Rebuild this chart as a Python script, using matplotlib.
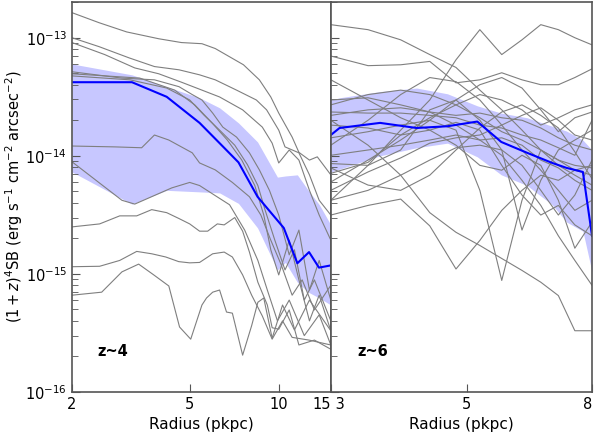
import matplotlib
matplotlib.use("Agg")
import matplotlib.pyplot as plt
from matplotlib.ticker import FixedLocator, FixedFormatter, NullLocator, NullFormatter, LogLocator

# ---- z~4 panel ----
z4_med_r = [2.0, 3.19, 4.18, 5.4, 6.31, 7.31, 8.48, 10.4, 11.56, 12.66, 13.68, 15.0]
z4_med_sb = [4.2e-14, 4.2e-14, 3.16e-14, 1.9e-14, 1.28e-14, 8.8e-15, 4.5e-15, 2.45e-15,
             1.23e-15, 1.53e-15, 1.13e-15, 1.18e-15]
z4_band_r = [2.0, 3.19, 4.18, 5.4, 6.31, 7.31, 8.48, 9.9, 10.53, 11.56, 12.59, 13.72, 15.0]
z4_band_hi = [6.0e-14, 4.85e-14, 3.85e-14, 3.1e-14, 2.55e-14, 1.9e-14, 1.31e-14, 6.6e-15,
              6.75e-15, 6.9e-15, 5.1e-15, 3.85e-15, 2.6e-15]
z4_band_lo = [7.3e-15, 3.9e-15, 5.1e-15, 4.95e-15, 4.85e-15, 3.95e-15, 2.45e-15, 1.08e-15,
              1.25e-15, 8.5e-16, 7.0e-16, 6.25e-16, 5.45e-16]

z4_gal_r = [
    [2.0, 2.47, 3.06, 3.93, 4.69, 5.5, 6.1, 7.6, 8.6, 9.4, 10.0, 11.1, 11.7, 12.7, 13.5, 15.0],
    [2.0, 2.47, 3.12, 3.8, 4.6, 5.4, 6.1, 7.2, 8.4, 9.1, 10.0, 10.5, 11.7, 12.7, 13.7, 15.0],
    [2.0, 2.58, 3.26, 3.93, 4.69, 5.5, 6.31, 7.55, 8.8, 9.5, 10.0, 10.85, 11.7, 12.7, 13.7, 15.0],
    [2.0, 2.95, 3.8, 4.6, 5.1, 5.5, 5.98, 6.47, 7.2, 7.96, 8.6, 9.3, 10.0, 10.85, 11.7, 12.7, 13.7, 15.0],
    [2.0, 3.14, 4.18, 5.0, 5.6, 6.31, 7.1, 7.84, 8.5, 9.0, 9.7, 10.5, 11.3, 12.2, 13.2, 15.0],
    [2.0, 3.39, 4.45, 5.2, 5.95, 6.7, 7.5, 8.3, 8.9, 9.4, 10.0, 10.85, 11.7, 12.7, 13.7, 15.0],
    [2.0, 2.79, 3.44, 3.8, 4.25, 5.1, 5.4, 6.1, 6.97, 7.96, 8.7, 9.4, 10.2, 11.1, 12.0, 13.2, 15.0],
    [2.0, 2.95, 3.26, 4.35, 5.0, 5.4, 6.06, 6.82, 7.67, 8.5, 9.15, 9.9, 10.85, 12.2, 13.7, 15.0],
    [2.0, 2.48, 2.9, 3.31, 3.72, 4.18, 4.59, 5.0, 5.4, 5.75, 6.2, 6.54, 7.1, 7.55, 7.96, 8.5,
     9.15, 9.5, 10.0, 10.85, 11.7, 13.2, 15.0],
    [2.0, 2.48, 2.9, 3.31, 3.72, 4.15, 4.59, 5.0, 5.4, 5.98, 6.54, 6.97, 7.55, 8.1, 8.8, 9.5,
     10.3, 11.1, 12.66, 15.0],
    [2.0, 2.52, 2.95, 3.36, 3.78, 4.25, 4.62, 5.04, 5.5, 5.7, 5.98, 6.31, 6.66, 6.97, 7.55, 8.1,
     8.5, 8.9, 9.5, 10.3, 11.3, 12.7, 15.0],
]
z4_gal_sb = [
    [1.63e-13, 1.34e-13, 1.12e-13, 9.8e-14, 9.1e-14, 8.9e-14, 8.1e-14, 5.9e-14, 4.4e-14, 3.15e-14,
     2.3e-14, 1.44e-14, 1.07e-14, 9.2e-15, 9.8e-15, 6.9e-15],
    [1.0e-13, 8.4e-14, 6.75e-14, 5.7e-14, 5.35e-14, 4.85e-14, 4.4e-14, 3.6e-14, 2.97e-14, 2.45e-14,
     1.65e-14, 1.19e-14, 1.06e-14, 6.9e-15, 4.2e-15, 3.15e-15],
    [9.1e-14, 7.2e-14, 5.55e-14, 4.95e-14, 4.2e-14, 3.6e-14, 3.15e-14, 2.45e-14, 1.75e-14, 1.28e-14,
     8.7e-15, 1.12e-14, 9.2e-15, 5.1e-15, 3.15e-15, 1.93e-15],
    [5.15e-14, 4.55e-14, 4.4e-14, 3.85e-14, 3.3e-14, 2.97e-14, 2.3e-14, 1.75e-14, 1.44e-14, 1.06e-14,
     7.6e-15, 5.1e-15, 3.15e-15, 1.45e-15, 2.35e-15, 7.3e-16, 1.3e-15, 6.0e-16],
    [4.75e-14, 4.4e-14, 3.75e-14, 2.97e-14, 2.2e-14, 1.65e-14, 1.23e-14, 8.4e-15, 5.6e-15, 3.45e-15,
     1.93e-15, 1.08e-15, 1.6e-15, 6.0e-16, 8.9e-16, 4.0e-16],
    [4.95e-14, 4.55e-14, 3.6e-14, 2.7e-14, 1.9e-14, 1.36e-14, 9.2e-15, 5.6e-15, 3.15e-15, 1.6e-15,
     9.8e-16, 1.93e-15, 8.9e-16, 4.0e-16, 6.6e-16, 3.3e-16],
    [1.21e-14, 1.19e-14, 1.17e-14, 1.5e-14, 1.36e-14, 1.06e-14, 8.7e-15, 7.6e-15, 5.95e-15, 4.5e-15,
     3.15e-15, 1.93e-15, 1.19e-15, 6.6e-16, 8.9e-16, 4.95e-16, 8.0e-16],
    [8.9e-15, 4.2e-15, 3.9e-15, 5.35e-15, 5.95e-15, 5.6e-15, 4.65e-15, 3.85e-15, 2.35e-15, 1.3e-15,
     7.3e-16, 4.0e-16, 6.0e-16, 3.0e-16, 4.5e-16, 2.5e-16],
    [2.5e-15, 2.65e-15, 3.1e-15, 3.1e-15, 3.5e-15, 3.3e-15, 2.95e-15, 2.65e-15, 2.3e-15, 2.3e-15,
     2.65e-15, 2.6e-15, 3.0e-15, 2.3e-15, 1.53e-15, 8.5e-16, 5.45e-16, 3.5e-16, 3.4e-16, 4.95e-16,
     2.5e-16, 2.75e-16, 2.3e-16],
    [1.15e-15, 1.16e-15, 1.3e-15, 1.55e-15, 1.48e-15, 1.39e-15, 1.27e-15, 1.24e-15, 1.25e-15,
     1.48e-15, 1.53e-15, 1.39e-15, 9.8e-16, 6.6e-16, 4.4e-16, 2.8e-16, 4.0e-16, 2.9e-16, 2.75e-16,
     2.5e-16],
    [6.6e-16, 7.0e-16, 1.04e-15, 1.21e-15, 9.8e-16, 7.9e-16, 3.55e-16, 2.8e-16, 5.45e-16, 6.25e-16,
     7.0e-16, 7.3e-16, 4.75e-16, 4.65e-16, 2.05e-16, 3.65e-16, 5.75e-16, 6.25e-16, 2.85e-16,
     5.45e-16, 3.35e-16, 6.0e-16, 3.3e-16],
]

# ---- z~6 panel ----
z6_med_r = [3.0, 3.1, 3.61, 4.14, 4.65, 5.2, 5.69, 6.27, 6.89, 7.27, 7.73, 8.0]
z6_med_sb = [1.5e-14, 1.72e-14, 1.9e-14, 1.72e-14, 1.78e-14, 1.95e-14, 1.31e-14, 1.06e-14,
             8.7e-15, 7.9e-15, 7.3e-15, 2.1e-15]
z6_band_hi = [2.97e-14, 3.1e-14, 3.5e-14, 3.75e-14, 3.35e-14, 2.65e-14, 2.3e-14, 2.1e-14,
              1.78e-14, 1.62e-14, 1.36e-14, 1.12e-14]
z6_band_lo = [7.3e-15, 7.7e-15, 1.0e-14, 1.17e-14, 1.28e-14, 9.8e-15, 6.9e-15, 5.6e-15,
              3.85e-15, 2.75e-15, 2.3e-15, 1.04e-15]

z6_gal_r = [3.0, 3.45, 3.9, 4.35, 4.8, 5.25, 5.7, 6.15, 6.6, 7.05, 7.5, 8.0]
z6_gal_sb = [
    [4.2e-15, 8.3e-15, 1.65e-14, 2.97e-14, 6.5e-14, 1.17e-13, 7.2e-14, 9.6e-14, 1.29e-13, 1.17e-13, 1.0e-13, 8.7e-14],
    [1.29e-13, 1.17e-13, 9.6e-14, 7.2e-14, 5.6e-14, 3.6e-14, 2.45e-14, 1.65e-14, 1.12e-14, 8.3e-15, 6.85e-15, 5.65e-15],
    [7.0e-14, 5.8e-14, 5.9e-14, 6.3e-14, 4.15e-14, 4.4e-14, 5.05e-14, 4.4e-14, 4.0e-14, 4.0e-14, 4.6e-14, 5.45e-14],
    [3.15e-15, 3.8e-15, 4.3e-15, 2.55e-15, 1.1e-15, 1.92e-15, 3.45e-15, 5.1e-15, 6.85e-15, 6.2e-15, 7.55e-15, 8.3e-15],
    [2.0e-14, 1.23e-14, 6.85e-15, 3.3e-15, 2.25e-15, 1.74e-15, 1.35e-15, 1.07e-15, 8.5e-16, 6.55e-16, 3.3e-16, 3.3e-16],
    [6.0e-15, 9.2e-15, 1.36e-14, 2.0e-14, 1.65e-14, 5.1e-15, 8.8e-16, 4.2e-15, 1.12e-14, 9.2e-15, 7.55e-15, 6.85e-15],
    [8.6e-15, 8.3e-15, 1.12e-14, 2.45e-14, 2.97e-14, 2.0e-14, 1.12e-14, 2.35e-15, 6.2e-15, 1.12e-14, 1.36e-14, 1.65e-14],
    [2.97e-14, 3.1e-14, 2.7e-14, 2.35e-14, 1.82e-14, 1.36e-14, 1.01e-14, 6.2e-15, 3.8e-15, 2.1e-15, 1.3e-15, 8.0e-16],
    [4.4e-14, 2.97e-14, 2.1e-14, 1.65e-14, 1.23e-14, 8.3e-15, 7.55e-15, 1.01e-14, 8.3e-15, 4.2e-15, 1.65e-15, 2.75e-15],
    [2.2e-14, 2.45e-14, 2.55e-14, 2.35e-14, 2.2e-14, 2.3e-14, 2.1e-14, 2.0e-14, 1.72e-14, 1.42e-14, 1.23e-14, 1.12e-14],
    [1.01e-14, 1.12e-14, 1.23e-14, 1.36e-14, 1.5e-14, 1.36e-14, 1.42e-14, 1.23e-14, 9.2e-15, 7.9e-15, 6.2e-15, 5.1e-15],
    [7.1e-15, 8.8e-15, 1.5e-14, 2.1e-14, 2.7e-14, 3.3e-14, 2.97e-14, 2.45e-14, 1.82e-14, 2.1e-14, 2.45e-14, 2.7e-14],
    [5.1e-15, 7.3e-15, 9.6e-15, 1.28e-14, 1.42e-14, 1.5e-14, 1.82e-14, 2.2e-14, 2.55e-14, 2.0e-14, 1.5e-14, 1.36e-14],
    [4.2e-15, 5.1e-15, 6.85e-15, 9.2e-15, 1.17e-14, 1.23e-14, 1.12e-14, 8.3e-15, 5.1e-15, 3.15e-15, 4.65e-15, 9.2e-15],
    [1.23e-14, 2.0e-14, 3.3e-14, 4.6e-14, 4.25e-14, 2.97e-14, 1.82e-14, 1.12e-14, 7.55e-15, 5.1e-15, 3.45e-15, 4.2e-15],
    [2.7e-14, 3.3e-14, 3.6e-14, 3.3e-14, 2.7e-14, 2.1e-14, 1.6e-14, 1.36e-14, 1.12e-14, 9.2e-15, 8.3e-15, 7.9e-15],
    [1.82e-14, 1.72e-14, 1.5e-14, 1.65e-14, 1.92e-14, 1.65e-14, 8.3e-15, 4.65e-15, 3.15e-15, 3.8e-15, 2.6e-15, 2.1e-15],
    [7.9e-15, 5.65e-15, 5.1e-15, 6.85e-15, 1.12e-14, 1.72e-14, 2.35e-14, 2.7e-14, 2.2e-14, 1.72e-14, 1.08e-14, 6.4e-15],
    [1.42e-14, 1.6e-14, 1.82e-14, 2.0e-14, 2.97e-14, 4.0e-14, 4.6e-14, 3.75e-14, 2.45e-14, 1.6e-14, 2.1e-14, 2.35e-14],
    [2.35e-14, 2.3e-14, 2.3e-14, 2.2e-14, 2.1e-14, 1.82e-14, 1.72e-14, 1.5e-14, 1.36e-14, 1.17e-14, 1.01e-14, 2.0e-14],
]

y_major = [1e-16, 1e-15, 1e-14, 1e-13]
y_labels = [r"$10^{-16}$", r"$10^{-15}$", r"$10^{-14}$", r"$10^{-13}$"]

spine_col = "#555555"
gray_col = "#7f7f7f"

fig = plt.figure(figsize=(5.95, 4.36), dpi=100)
ax1 = fig.add_axes([0.121, 0.101, 0.435, 0.894])
ax2 = fig.add_axes([0.556, 0.101, 0.439, 0.894], sharey=ax1)

# left panel
for r, sb in zip(z4_gal_r, z4_gal_sb):
    ax1.plot(r, sb, color=gray_col, lw=0.8)
ax1.fill_between(z4_band_r, z4_band_lo, z4_band_hi, color="blue", alpha=0.22, lw=0)
ax1.plot(z4_med_r, z4_med_sb, color="blue", lw=1.5)

# right panel
for sb in z6_gal_sb:
    ax2.plot(z6_gal_r, sb, color=gray_col, lw=0.8)
ax2.fill_between(z6_med_r, z6_band_lo, z6_band_hi, color="blue", alpha=0.22, lw=0)
ax2.plot(z6_med_r, z6_med_sb, color="blue", lw=1.5)

for ax in (ax1, ax2):
    ax.set_xscale("log")
    ax.set_yscale("log")
    ax.xaxis.set_minor_locator(NullLocator())
    ax.xaxis.set_minor_formatter(NullFormatter())
    ax.tick_params(which="both", direction="in", color=spine_col, labelsize=10.5)
    ax.tick_params(which="major", length=6)
    ax.tick_params(which="minor", length=4)
    for s in ax.spines.values():
        s.set_color(spine_col)
        s.set_linewidth(1.2)
    ax.set_xlabel("Radius (pkpc)", fontsize=11)

ax1.set_ylim(1e-16, 2e-13)
ax1.yaxis.set_major_locator(FixedLocator(y_major))
ax1.yaxis.set_major_formatter(FixedFormatter(y_labels))
ax1.yaxis.set_minor_locator(LogLocator(base=10, subs=range(2, 10), numticks=20))
ax1.yaxis.set_minor_formatter(NullFormatter())

ax1.set_xlim(2, 15)
ax1.xaxis.set_major_locator(FixedLocator([2, 5, 10, 15]))
ax1.xaxis.set_major_formatter(FixedFormatter(["2", "5", "10", "15"]))
ax2.set_xlim(3, 8)
ax2.xaxis.set_major_locator(FixedLocator([3, 5, 8]))
ax2.xaxis.set_major_formatter(FixedFormatter([" 3", "5", "8"]))
ax2.tick_params(axis="y", labelleft=False)

fig.canvas.draw()
ax1.get_xticklabels()[-1].set_horizontalalignment("right")
ax2.get_xticklabels()[0].set_horizontalalignment("left")
ax2.get_xticklabels()[-1].set_horizontalalignment("right")

ax1.set_ylabel(r"$(1+z)^4$SB (erg s$^{-1}$ cm$^{-2}$ arcsec$^{-2}$)", fontsize=10.5)
ax1.yaxis.set_label_coords(-0.18, 0.5)

ax1.text(0.098, 0.103, "z~4", transform=ax1.transAxes, fontsize=10.5,
         fontweight="bold", va="center")
ax2.text(0.10, 0.105, "z~6", transform=ax2.transAxes, fontsize=10.5,
         fontweight="bold", va="center")

fig.savefig("out.png", dpi=100)
